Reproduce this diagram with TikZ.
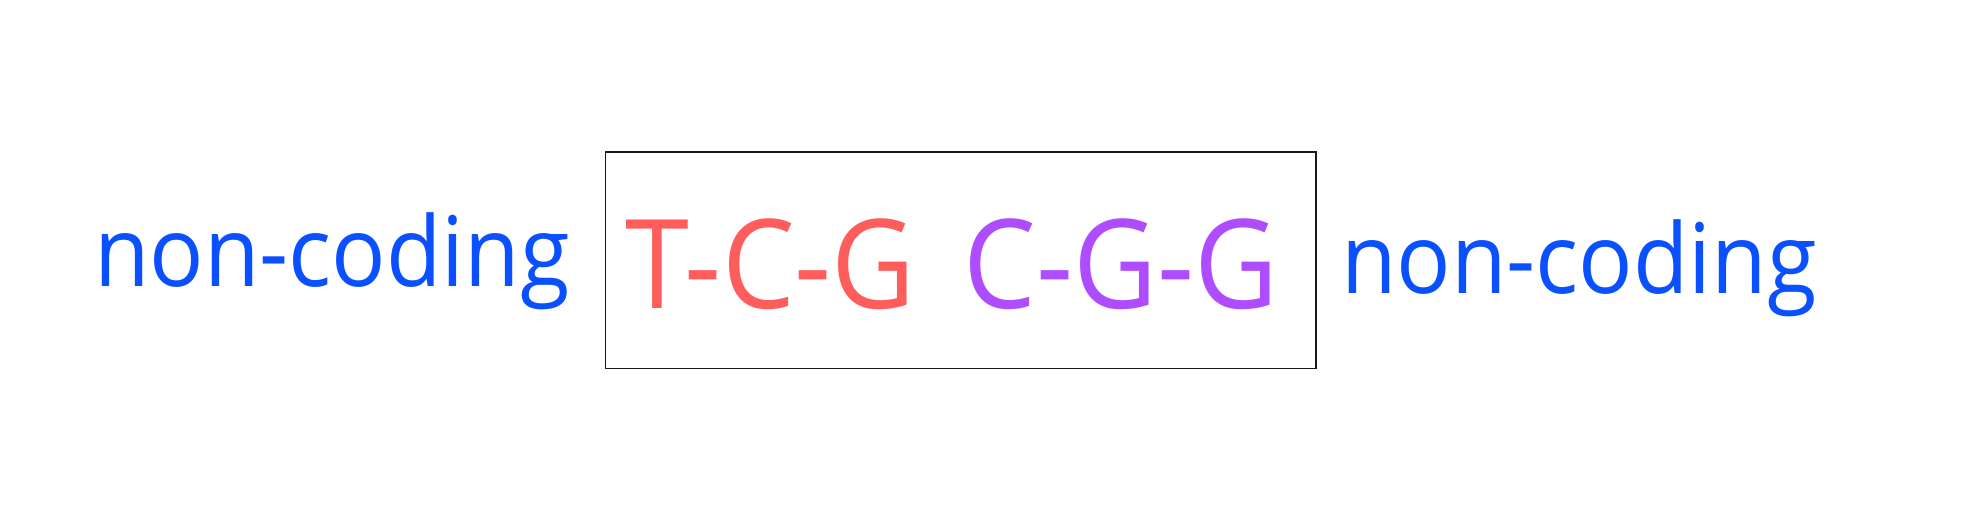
\documentclass[tikz,border=0pt]{standalone}
\usepackage{fontspec}
\setmainfont{Open Sans}
\definecolor{ncblue}{HTML}{0A50FF}
\definecolor{codred}{HTML}{FF5C5C}
\definecolor{codpurple}{HTML}{AE4CFF}
\newcommand{\narrowtext}[1]{\scalebox{0.93}[1]{#1}}
\begin{document}
\begin{tikzpicture}[x=1pt,y=-1pt,
  nctext/.style={inner sep=0pt, text=ncblue, font=\fontsize{97.2}{118}\selectfont},
  codon/.style={inner sep=0pt, font=\fontsize{124}{150}\selectfont},
  frame/.style={draw=black!90, line width=1.6pt, inner sep=0pt, minimum width=710.4pt, minimum height=216.7pt}]
\useasboundingbox (0,0) rectangle (1972,526);
\node[frame] (box) at (960.5,260.3) {};
\node[nctext, anchor=base west] (left) at (94,287) {\narrowtext{non-coding}};
\node[codon, text=codred, anchor=base west] (c1) at (625.5,309) {\narrowtext{T-C-G}};
\node[codon, text=codpurple, anchor=base east] (c2) at (1278.5,309) {\narrowtext{C-G-G}};
\node[nctext, anchor=base west] (right) at (1341,294) {\narrowtext{non-coding}};
\end{tikzpicture}
\end{document}
